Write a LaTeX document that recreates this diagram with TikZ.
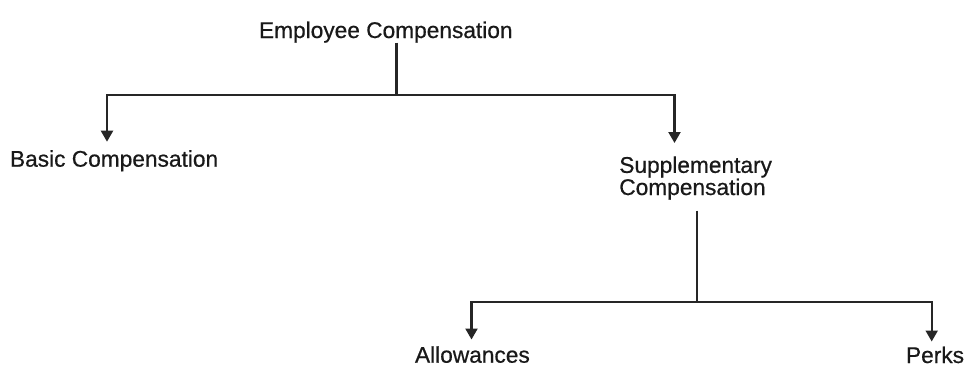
\documentclass[tikz,border=0pt]{standalone}
\usepackage{fontspec}
\setmainfont{Liberation Sans}[FakeBold=0.6]
\usetikzlibrary{arrows.meta}
\begin{document}
\begin{tikzpicture}[x=1pt,y=-1pt,
  lbl/.style={inner sep=0pt, outer sep=0pt, text=black!90,
    font=\fontsize{22.7pt}{21pt}\selectfont},
  link/.style={line width=2.2pt, draw=black!85},
  arr/.style={link, -{Triangle[width=12pt,length=11pt]}}]
\useasboundingbox[fill=white] (0,0) rectangle (966,369);

% labels
\node[lbl, anchor=base west] (ec) at (259,38) {Employee Compensation};
\node[lbl, anchor=base west] (bc) at (10,166.7) {Basic Compensation};
\node[lbl, anchor=north west, align=left] (sc) at (619.3,156.4) {Supplementary\\Compensation};
\node[lbl, anchor=base west] (al) at (415,362.7) {Allowances};
\node[lbl, anchor=base west] (pk) at (906,363) {Perks};

% junctions and arrow tips
\coordinate (j1) at (396.5,95);
\coordinate (j2) at (697,302);
\coordinate (tBC) at (107,141.7);
\coordinate (tSC) at (674.5,143);
\coordinate (tAL) at (471.5,339.5);
\coordinate (tPK) at (931.7,341.5);

% connectors
\draw[link] (j1 |- ec.south) -- (j1);
\draw[arr] (j1) -| (tBC);
\draw[arr] (j1) -| (tSC);
\draw[link, shorten <=11pt] (j2 |- sc.south) -- (j2);
\draw[arr] (j2) -| (tAL);
\draw[arr] (j2) -| (tPK);
\end{tikzpicture}
\end{document}
